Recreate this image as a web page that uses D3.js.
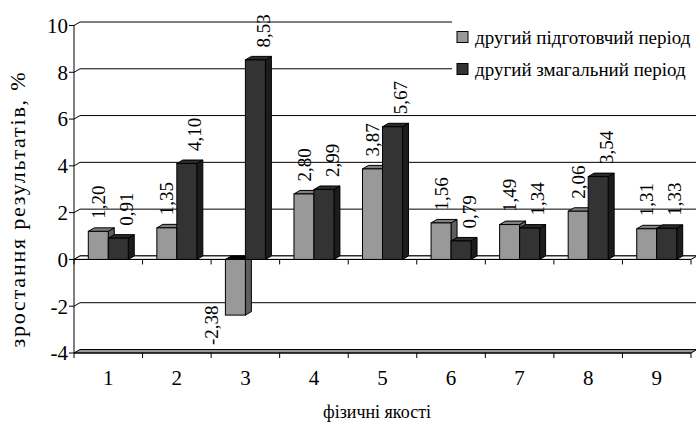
<!DOCTYPE html>
<html>
<head>
    <meta charset="utf-8">
    <title>Зростання результатів</title>
    <script src="https://d3js.org/d3.v7.min.js"></script>
    <style>
        body {
            margin: 0;
            background: #fff;
        }
    </style>
</head>
<body>
<div id="chart"></div>
<script>
    const categories = ["1", "2", "3", "4", "5", "6", "7", "8", "9"];
    const seriesNames = ["другий підготовчий період", "другий змагальний період"];
    const prepValues = [1.20, 1.35, -2.38, 2.80, 3.87, 1.56, 1.49, 2.06, 1.31];
    const compValues = [0.91, 4.10, 8.53, 2.99, 5.67, 0.79, 1.34, 3.54, 1.33];
    const yTicks = [-4, -2, 0, 2, 4, 6, 8, 10];

    const width = 696, height = 426;
    const dx = 6, dy = -3.5; // 3d depth offset
    const FONT = "'Liberation Serif'";

    // colours per series: front, top, side
    const colors = [
        { front: "#999999", top: "#7f7f7f", side: "#5f5f5f" },
        { front: "#333333", top: "#2b2b2b", side: "#1c1c1c" }
    ];

    const svg = d3.select("#chart")
        .append("svg")
        .attr("width", width)
        .attr("height", height);

    // every text gets the serif font set on itself
    function label(sel, size) {
        return sel.style("font-family", FONT)
            .style("font-size", size + "px")
            .attr("fill", "#000");
    }

    const x = d3.scaleBand()
        .domain(categories)
        .range([74, 691]);

    const x1 = d3.scaleBand()
        .domain(d3.range(seriesNames.length))
        .range([0, x.bandwidth()])
        .paddingOuter(0.715);

    const y = d3.scaleLinear()
        .domain([-4, 10])
        .range([353, 25.5]);

    const axisX = x.range()[0];
    const rightX = x.range()[1];

    // back wall gridlines
    const grid = svg.append("g").attr("class", "grid");
    yTicks.filter(t => t > -4).forEach(t => {
        grid.append("path")
            .attr("d", `M${axisX},${y(t)}L${axisX + dx},${y(t) + dy}L${width},${y(t) + dy}`)
            .attr("fill", "none")
            .attr("stroke", "#000")
            .attr("stroke-width", 1);
    });

    // floor at -4
    svg.append("path")
        .attr("d", `M${axisX},${y(-4)}L${rightX},${y(-4)}L${rightX + dx},${y(-4) + dy}L${axisX + dx},${y(-4) + dy}Z`)
        .attr("fill", "#999")
        .attr("stroke", "#000")
        .attr("stroke-width", 1);

    // plane at 0
    svg.append("path")
        .attr("d", `M${axisX},${y(0)}L${rightX},${y(0)}L${rightX + dx},${y(0) + dy}L${axisX + dx},${y(0) + dy}Z`)
        .attr("fill", "#fff")
        .attr("stroke", "#000")
        .attr("stroke-width", 1);

    // value axis
    const yAxis = svg.append("g");
    yAxis.append("line")
        .attr("x1", axisX).attr("x2", axisX)
        .attr("y1", y(10)).attr("y2", y(-4))
        .attr("stroke", "#000");
    yTicks.forEach(t => {
        yAxis.append("line")
            .attr("x1", axisX - 5).attr("x2", axisX)
            .attr("y1", y(t)).attr("y2", y(t))
            .attr("stroke", "#000");
        label(yAxis.append("text"), 21)
            .attr("x", axisX - 6)
            .attr("y", y(t))
            .attr("dy", "0.35em")
            .attr("text-anchor", "end")
            .text(t);
    });

    // category ticks on the 0 line and on the floor
    const xTicks = x.domain().map(c => x(c)).concat([rightX]);
    [0, -4].forEach(level => {
        svg.append("line")
            .attr("x1", axisX).attr("x2", rightX)
            .attr("y1", y(level)).attr("y2", y(level))
            .attr("stroke", "#000");
        xTicks.forEach(px => {
            svg.append("line")
                .attr("x1", px).attr("x2", px)
                .attr("y1", y(level)).attr("y2", y(level) + 5)
                .attr("stroke", "#000");
        });
    });

    label(svg.append("g")
        .selectAll("text")
        .data(categories)
        .enter()
        .append("text"), 21)
        .attr("x", d => x(d) + x.bandwidth() / 2)
        .attr("y", 385)
        .attr("text-anchor", "middle")
        .text(d => d);

    // bars
    const bars = [];
    categories.forEach((c, i) => {
        [prepValues[i], compValues[i]].forEach((v, s) => {
            bars.push({ cat: c, s: s, v: v });
        });
    });

    const barG = svg.append("g").attr("class", "bars");
    bars.forEach(d => {
        const x0 = x(d.cat) + x1(d.s);
        const x2 = x0 + x1.bandwidth();
        const yTop = y(Math.max(d.v, 0));
        const yBot = y(Math.min(d.v, 0));
        const c = colors[d.s];
        // side
        barG.append("path")
            .attr("d", `M${x2},${yTop}L${x2 + dx},${yTop + dy}L${x2 + dx},${yBot + dy}L${x2},${yBot}Z`)
            .attr("fill", c.side).attr("stroke", "#000").attr("stroke-width", 1);
        // top
        barG.append("path")
            .attr("d", `M${x0},${yTop}L${x0 + dx},${yTop + dy}L${x2 + dx},${yTop + dy}L${x2},${yTop}Z`)
            .attr("fill", d.v < 0 ? "#000" : c.top).attr("stroke", "#000").attr("stroke-width", 1);
        // front
        barG.append("rect")
            .attr("x", x0).attr("y", yTop)
            .attr("width", x1.bandwidth()).attr("height", yBot - yTop)
            .attr("fill", c.front).attr("stroke", "#000").attr("stroke-width", 1);
    });

    // value labels, rotated
    const fmt = v => v.toFixed(2).replace(".", ",");
    label(svg.append("g")
        .selectAll("text")
        .data(bars)
        .enter()
        .append("text"), 19)
        .attr("transform", d => {
            const cx = x(d.cat) + x1(d.s) + x1.bandwidth() / 2 + dx / 2 + (d.s === 0 ? -3 : 5);
            if (d.v < 0) {
                return `translate(${cx - 24},${y(d.v) + 30}) rotate(-90)`;
            }
            return `translate(${cx},${y(d.v) + dy - 9}) rotate(-90)`;
        })
        .attr("dy", "0.35em")
        .attr("text-anchor", "start")
        .text(d => fmt(d.v));

    // legend
    const legend = svg.append("g");
    legend.append("rect")
        .attr("x", 452).attr("y", 14)
        .attr("width", width - 452).attr("height", 70)
        .attr("fill", "#fff");
    seriesNames.forEach((name, i) => {
        const ly = 37 + i * 32;
        legend.append("rect")
            .attr("x", 457).attr("y", ly - 5.5)
            .attr("width", 11).attr("height", 11)
            .attr("fill", colors[i].front)
            .attr("stroke", "#000");
        label(legend.append("text"), 19)
            .attr("x", 475).attr("y", ly)
            .attr("dy", "0.35em")
            .text(name);
    });

    // axis titles
    label(svg.append("text"), 22)
        .attr("transform", "translate(25,210) rotate(-90)")
        .attr("text-anchor", "middle")
        .attr("textLength", 275)
        .attr("lengthAdjust", "spacing")
        .text("зростання результатів, %");

    label(svg.append("text"), 18)
        .attr("x", 377)
        .attr("y", 418)
        .attr("text-anchor", "middle")
        .text("фізичні якості");
</script>
</body>
</html>
